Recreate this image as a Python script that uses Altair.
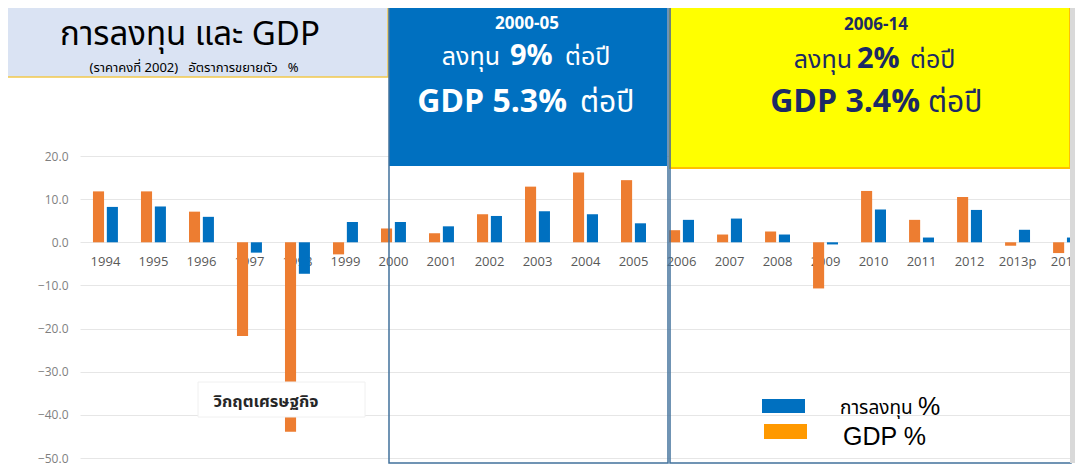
import altair as alt
import pandas as pd

# ---- data ----
years = ["1994", "1995", "1996", "1997", "1998", "1999", "2000", "2001", "2002", "2003",
         "2004", "2005", "2006", "2007", "2008", "2009", "2010", "2011", "2012", "2013p", "2014"]
invest_growth = [11.8, 11.8, 7.1, -21.7, -43.9, -2.8, 3.2, 2.1, 6.5, 12.9,
                 16.2, 14.4, 2.8, 1.8, 2.5, -10.7, 11.9, 5.2, 10.5, -0.8, -2.5]
gdp_growth = [8.2, 8.3, 5.9, -2.4, -7.3, 4.7, 4.7, 3.7, 6.1, 7.2,
              6.5, 4.4, 5.2, 5.5, 1.8, -0.5, 7.6, 1.1, 7.5, 2.9, 1.1]
series_names = ["การลงทุน", "GDP"]
series_colors = ["#ED7D31", "#0070C0"]
y_ticks = [20, 10, 0, -10, -20, -30, -40, -50]

title_text = "การลงทุน และ GDP"
subtitle_text = "(ราคาคงที่ 2002)\u00a0\u00a0 อัตราการขยายตัว\u00a0\u00a0 %"
crisis_text = "วิกฤตเศรษฐกิจ"

rows = []
for i, yr in enumerate(years):
    rows.append({"year": yr, "series": series_names[0], "value": invest_growth[i]})
    rows.append({"year": yr, "series": series_names[1], "value": gdp_growth[i]})
bars_df = pd.DataFrame(rows)
years_df = pd.DataFrame({"year": years})

THAI = "Tahoma, 'Noto Sans Thai', 'Noto Sans', sans-serif"
one = alt.Data(values=[{}])

# plot origin sits at page (80, 156)
OY = 156
x_scale = alt.Scale(domain=years, range=[0, 1011], paddingInner=0.48, paddingOuter=0.27)
y_scale = alt.Scale(domain=[-50, 20], nice=False, zero=False)


def box(x, x2, y, y2, fill="transparent", stroke="transparent", sw=1.0):
    return alt.Chart(one).mark_rect(fill=fill, stroke=stroke, strokeWidth=sw).encode(
        x=alt.value(x - 80), x2=alt.value(x2 - 80), y=alt.value(y - OY), y2=alt.value(y2 - OY))


def txt(s, x, y, size, color="#000000", weight="normal", align="center", font=THAI):
    return alt.Chart(one).mark_text(
        text=s, fontSize=size, color=color, fontWeight=weight, align=align,
        baseline="alphabetic", font=font).encode(x=alt.value(x - 80), y=alt.value(y - OY))


# header boxes (page coordinates)
title_box = box(0, 388, 0, 77, fill="#DAE3F3", stroke="#F2C94C", sw=1.5)
blue_box = box(389, 667, 0, 166, fill="#0070C0")
yellow_box = box(670, 1070, 3, 168, fill="#FFFF00", stroke="#FFC000", sw=2)

# year labels sitting under the zero line
year_labels = alt.Chart(years_df).mark_text(
    baseline="alphabetic", dy=24, fontSize=13, color="#595959", font="Open Sans"
).encode(
    x=alt.X("year:N", sort=years, scale=x_scale, axis=None),
    y=alt.datum(0),
    text="year:N",
)

bars = alt.Chart(bars_df).mark_bar().encode(
    x=alt.X("year:N", sort=years, scale=x_scale, axis=None),
    xOffset=alt.XOffset("series:N", sort=series_names,
                        scale=alt.Scale(paddingInner=0.2, paddingOuter=0)),
    y=alt.Y("value:Q", scale=y_scale, title=None,
            axis=alt.Axis(values=y_ticks, format=".1f", grid=True, gridColor="#E6E6E6",
                          domain=False, ticks=False, labelPadding=12, labelColor="#7F7F7F",
                          labelFontSize=12, labelFont="Open Sans")),
    color=alt.Color("series:N", scale=alt.Scale(domain=series_names, range=series_colors),
                    legend=None),
)

# crisis annotation
crisis_box = box(198, 365, 382, 417, fill="#FFFFFF", stroke="#F0F0F0", sw=1)
crisis_label = txt(crisis_text, 266, 407, 16.5, color="#262626", weight="bold")

# outlines of the two periods
blue_outline = box(389, 668, 0, 463, stroke="#41719C", sw=1.5)
yellow_outline = box(670, 1071, 2, 463, stroke="#41719C", sw=1.5)

WHITE = "#FFFFFF"
NAVY = "#1C2A64"
header_text = [
    txt("2000-05", 527, 29, 17, WHITE, "bold"),
    txt("ลงทุน", 500, 65, 25, WHITE, align="right"),
    txt("9%", 510, 65, 29, WHITE, "bold", align="left"),
    txt("ต่อปี", 565, 65, 25, WHITE, align="left"),
    txt("GDP 5.3%", 567, 112, 32, WHITE, "bold", align="right"),
    txt("ต่อปี", 580, 112, 30, WHITE, align="left"),
    txt("2006-14", 876, 30, 17, NAVY, "bold"),
    txt("ลงทุน", 852, 68, 25, NAVY, align="right"),
    txt("2%", 857, 68, 29, NAVY, "bold", align="left"),
    txt("ต่อปี", 910, 68, 25, NAVY, align="left"),
    txt("GDP 3.4%", 920, 112, 32, NAVY, "bold", align="right"),
    txt("ต่อปี", 928, 112, 30, NAVY, align="left"),
    txt(title_text, 190, 45, 33, "#000000"),
    txt(subtitle_text, 194, 72, 13, "#000000"),
]

# hand-drawn legend as in the picture
legend = [
    box(762, 805, 399, 413, fill="#0070C0"),
    box(764, 807, 424, 439, fill="#FF9900"),
    txt("การลงทุน", 840, 414, 19, "#000000", align="left"),
    txt("%", 918, 415, 25, "#000000", align="left", font="Liberation Sans"),
    txt("GDP %", 843, 445, 25, "#000000", align="left", font="Liberation Sans"),
]

shadow = box(1070, 1076, 8, 463, fill="#D9D9D9")

chart = alt.layer(
    title_box, blue_box, yellow_box, year_labels, bars, crisis_box, crisis_label,
    blue_outline, yellow_outline, *header_text, *legend, shadow
).properties(
    width=993, height=302,
    autosize=alt.AutoSizeParams(type="none"),
    padding={"left": 72, "top": 148, "right": 2, "bottom": 8},
    background="#FFFFFF",
).configure_view(stroke=None)

chart.save("out.html", embed_options={"renderer": "svg", "actions": False})
